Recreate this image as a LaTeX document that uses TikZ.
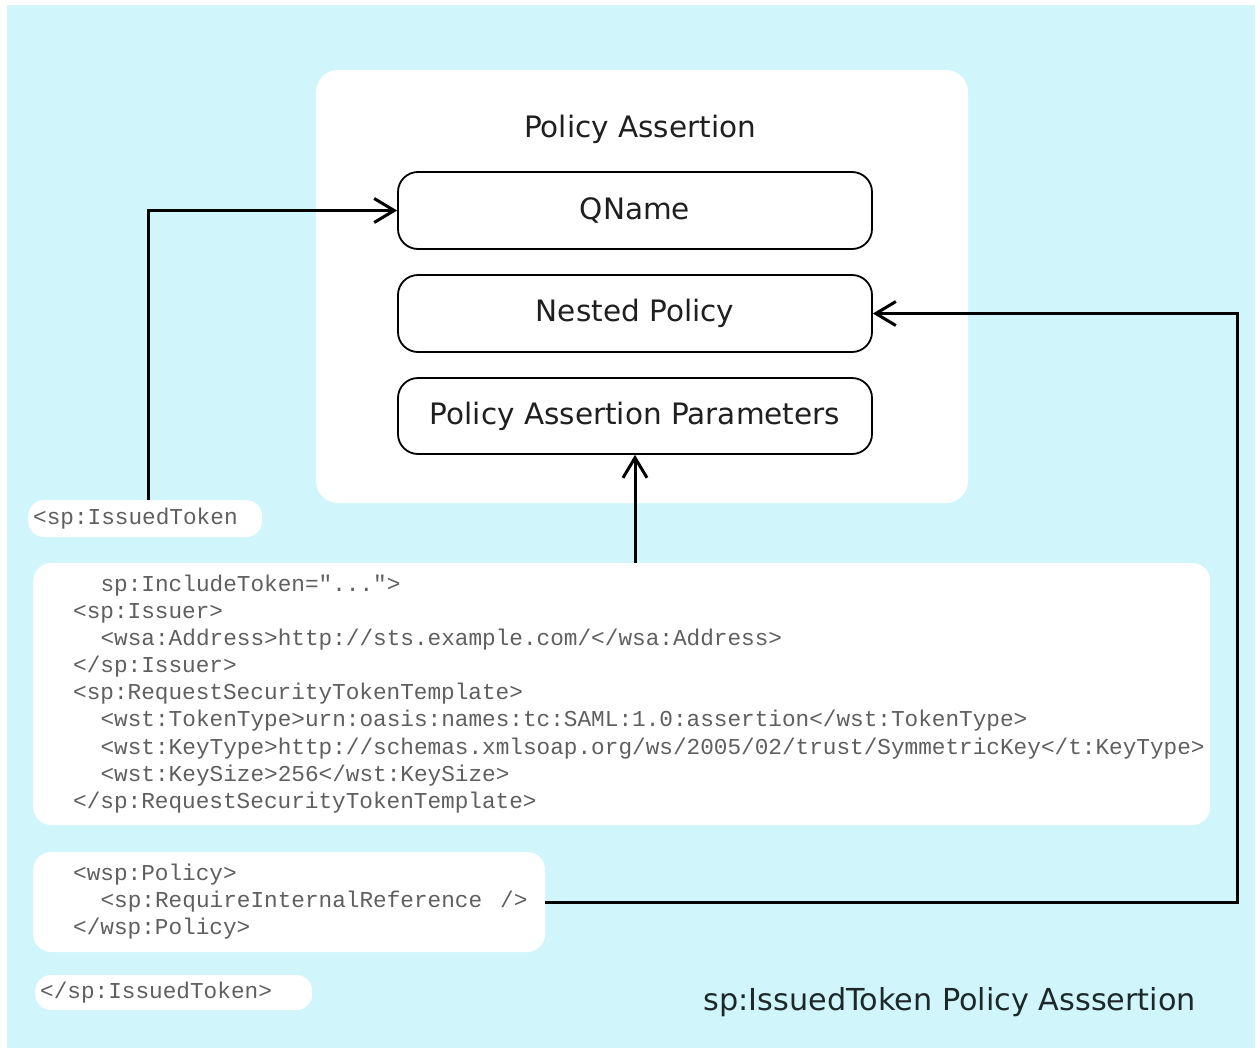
\documentclass[tikz,border=0pt]{standalone}
\usepackage{fontspec}
\setmainfont{DejaVu Sans}
\newfontfamily\codefont{Liberation Mono}
\usetikzlibrary{arrows.meta}
\definecolor{bgcyan}{RGB}{208,246,252}
\definecolor{codegray}{RGB}{95,95,95}
\definecolor{captext}{RGB}{28,40,42}
\newcommand{\ind}{\hspace*{27.4bp}}
\tikzset{
  part/.style={draw=black, line width=1.8bp, rounded corners=20bp, fill=white,
    minimum width=474bp, minimum height=77bp, inner sep=0pt,
    font=\fontsize{29.6}{34}\selectfont, text=black!88},
  conn/.style={line width=3bp, -{Straight Barb[length=20bp,width=24bp,line width=3bp]}},
  codebox/.style={fill=white, rounded corners=18bp, inner xsep=40bp, inner ysep=0pt,
    align=left, anchor=west, font=\codefont\fontsize{22.8}{27.2}\selectfont, text=codegray},
  tagbox/.style={codebox, inner xsep=5bp, rounded corners=16bp},
  title/.style={font=\fontsize{29.6}{34}\selectfont, text=black!88}
}
\begin{document}
\begin{tikzpicture}[x=1bp,y=-1bp]
\useasboundingbox (0,0) rectangle (1260,1051);
\fill[white] (0,0) rectangle (1260,1051);
\fill[bgcyan] (7,5) rectangle (1255,1048);

% policy assertion panel
\node[fill=white, rounded corners=22bp, minimum width=652bp, minimum height=433bp, inner sep=0pt]
  (panel) at (642,286.5) {};
\node[title] (ptitle) at (640,129) {Policy Assertion};
\node[part] (qname)  at (635,210.5) {QName};
\node[part] (nested) at (635,313.5) {Nested Policy};
\node[part, minimum height=76bp] (params) at (635,416) {Policy Assertion Parameters};

% code fragments
\node[tagbox, text width=224bp, minimum height=37bp] (open) at (28,518.5) {<sp:IssuedToken};
\node[codebox, text width=1097bp, minimum height=262bp] (code) at (33,694) {%
\ind sp:IncludeToken="...">\\
<sp:Issuer>\\
\ind <wsa:Address>http://sts.example.com/</wsa:Address>\\
</sp:Issuer>\\
<sp:RequestSecurityTokenTemplate>\\
\ind <wst:TokenType>urn:oasis:names:tc:SAML:1.0:assertion</wst:TokenType>\\
\ind <wst:KeyType>http://schemas.xmlsoap.org/ws/2005/02/trust/SymmetricKey</t:KeyType>\\
\ind <wst:KeySize>256</wst:KeySize>\\
</sp:RequestSecurityTokenTemplate>};
\node[codebox, text width=432bp, minimum height=100bp] (policy) at (33,902) {%
<wsp:Policy>\\
\ind\mbox{<sp:RequireInternalReference\hspace{18bp}/>}\\
</wsp:Policy>};
\node[tagbox, text width=267bp, minimum height=35bp] (close) at (35,992.5) {</sp:IssuedToken>};

\node[title, anchor=west, text=captext, font=\fontsize{30.4}{35}\selectfont] (caption) at (700,1002) {sp:IssuedToken Policy Asssertion};

% connectors
\draw[conn] ([xshift=120bp]open.north west) |- (qname.west);
\draw[conn] (code.north -| params.south) -- (params.south);
\coordinate (turn) at (1237,313.5);
\draw[conn] (policy.east) -| (turn) -- (nested.east);
\end{tikzpicture}
\end{document}
